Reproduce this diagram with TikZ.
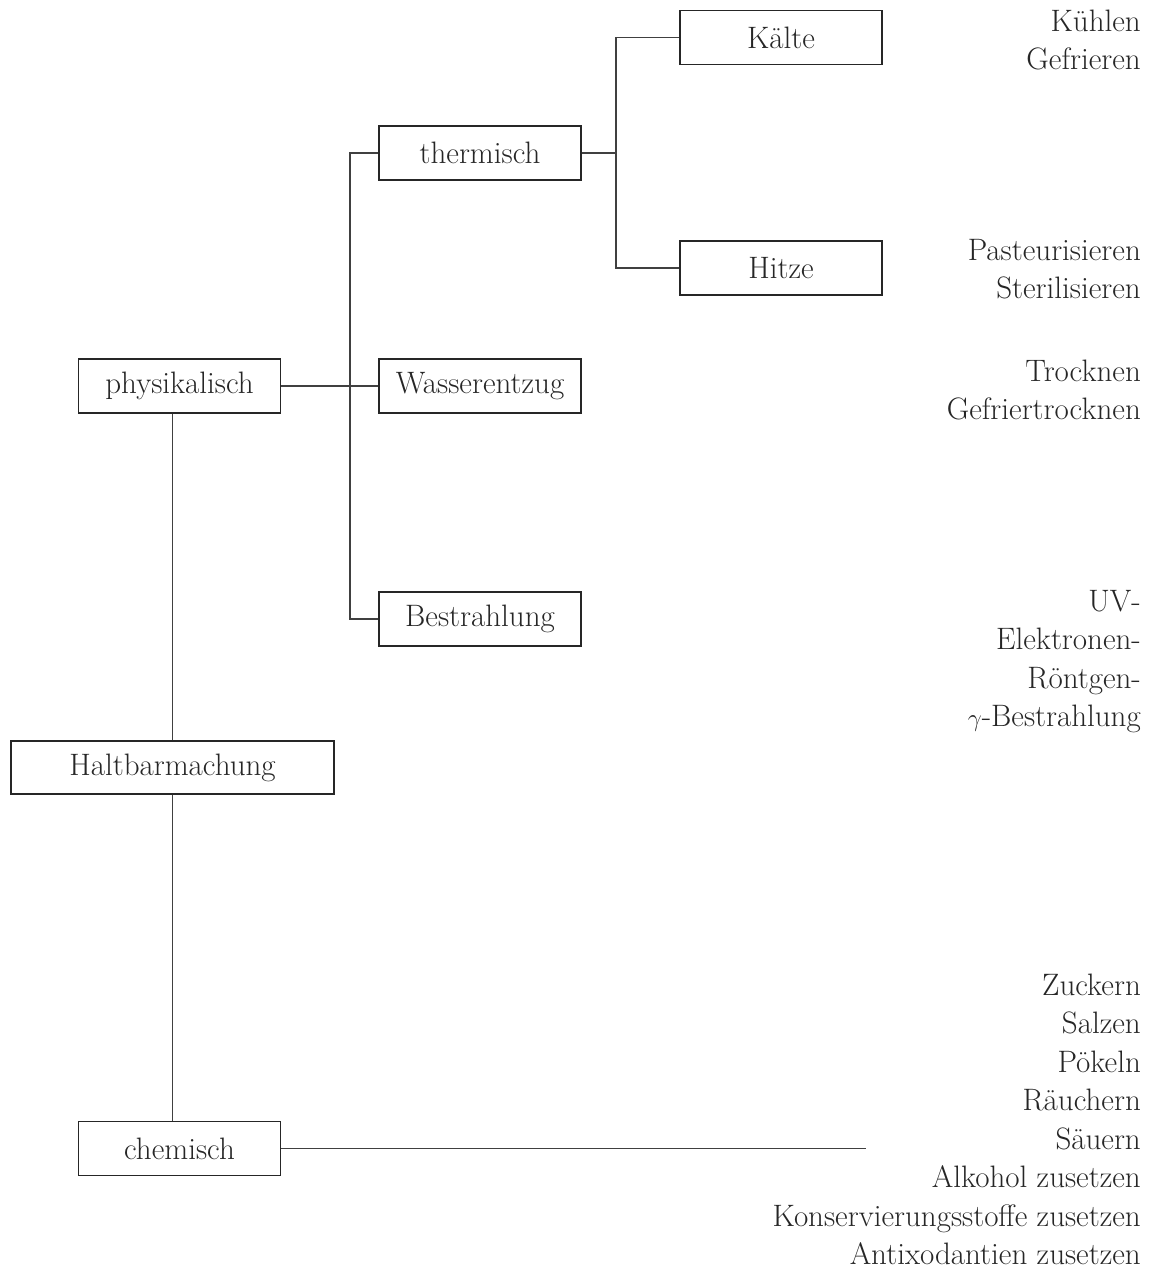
\documentclass[tikz,border=0pt]{standalone}
\begin{document}
\begin{tikzpicture}[x=1pt,y=-1pt,
  box/.style={draw=black!85, line width=1.3pt, minimum width=202pt, minimum height=54pt, inner sep=0pt, font=\fontsize{31}{36}\selectfont, text=black!85},
  mainbox/.style={box, line width=2.4pt, minimum width=323pt, minimum height=53pt},
  conn/.style={draw=black!75, line width=1.2pt},
  lbl/.style={anchor=base east, inner sep=0pt, font=\fontsize{31}{36}\selectfont, text=black!85}]
\useasboundingbox (0,0) rectangle (1149,1268);
% boxes
\node[box] (kaelte) at (781,37.5) {Kälte};
\node[box] (hitze) at (781,268) {Hitze};
\node[box] (therm) at (480,153) {thermisch};
\node[box] (wasser) at (480,386) {Wasserentzug};
\node[box] (bestr) at (480,619) {Bestrahlung};
\node[box] (phys) at (179.5,386) {physikalisch};
\node[mainbox] (halt) at (172.5,767.5) {Haltbarmachung};
\node[box] (chem) at (179.5,1148.5) {chemisch};
% connectors
\coordinate (b1) at (616,153);
\coordinate (b2) at (350,386);
\coordinate (cend) at (866,1148.5);
\draw[conn] (therm.east) -- (b1);
\draw[conn] (b1) |- (kaelte.west);
\draw[conn] (b1) |- (hitze.west);
\draw[conn] (phys.east) -- (wasser.west);
\draw[conn] (b2) |- (therm.west);
\draw[conn] (b2) |- (bestr.west);
\draw[conn] (halt.north) -- (halt.north |- phys.south);
\draw[conn] (halt.south) -- (halt.south |- chem.north);
\draw[conn] (chem.east) -- (cend);
% right column labels
\node[lbl] (t1) at (1141,32) {Kühlen};
\node[lbl] (t2) at (1141,69.5) {Gefrieren};
\node[lbl] (t3) at (1141,260) {Pasteurisieren};
\node[lbl] (t4) at (1141,298) {Sterilisieren};
\node[lbl] (t5) at (1141,381) {Trocknen};
\node[lbl] (t6) at (1141,419) {Gefriertrocknen};
\node[lbl] (t7) at (1141,611) {UV-};
\node[lbl] (t8) at (1141,649.5) {Elektronen-};
\node[lbl] (t9) at (1141,688) {Röntgen-};
\node[lbl] (t10) at (1141,726.5) {$\gamma$-Bestrahlung};
\node[lbl] (c1) at (1141,995) {Zuckern};
\node[lbl] (c2) at (1141,1033.5) {Salzen};
\node[lbl] (c3) at (1141,1072) {Pökeln};
\node[lbl] (c4) at (1141,1110.5) {Räuchern};
\node[lbl] (c5) at (1141,1149) {Säuern};
\node[lbl] (c6) at (1141,1187.5) {Alkohol zusetzen};
\node[lbl] (c7) at (1141,1226) {Konservierungsstoffe zusetzen};
\node[lbl] (c8) at (1141,1264) {Antixodantien zusetzen};
\end{tikzpicture}
\end{document}
